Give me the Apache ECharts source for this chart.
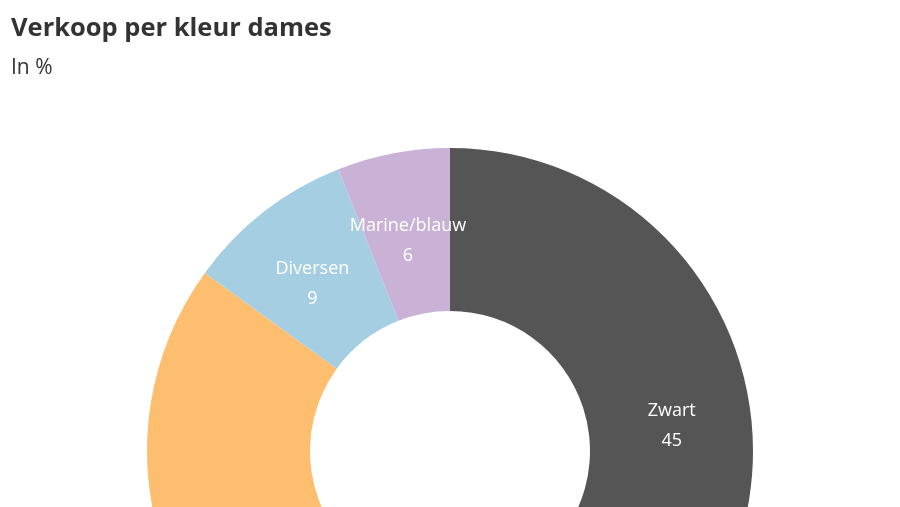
<!DOCTYPE html>
<html>
<head>
<meta charset="utf-8">
<script src="https://cdn.jsdelivr.net/npm/echarts@6/dist/echarts.min.js"></script>
<style>
  html, body { margin: 0; padding: 0; background: #fff; }
  #chart { width: 900px; height: 507px; }
</style>
</head>
<body>
<div id="chart"></div>
<script>
// Data (clockwise from top)
const colorNames = ['Zwart', 'Bruin', 'Diversen', 'Marine/blauw'];
const shares = [45, 40, 9, 6];
const sliceColors = ['#555555', '#fdbf6f', '#a6cee3', '#cab2d6'];

const myChart = echarts.init(document.getElementById('chart'));

const option = {
    animation: false,
    title: {
        text: 'Verkoop per kleur dames',
        subtext: 'In %',
        left: 11,
        top: 16,
        padding: 0,
        itemGap: 16,
        textStyle: {
            fontFamily: 'Open Sans',
            fontWeight: 'bold',
            fontSize: 25.5,
            color: '#333333'
        },
        subtextStyle: {
            fontFamily: 'Open Sans',
            fontSize: 21,
            color: '#333333'
        }
    },
    series: [{
        type: 'pie',
        center: [450, 451],
        radius: [140, 303],
        startAngle: 90,
        clockwise: true,
        avoidLabelOverlap: false,
        label: {
            show: true,
            position: 'inside',
            formatter: '{b}\n{c}',
            color: '#ffffff',
            fontFamily: 'Open Sans',
            fontSize: 18,
            lineHeight: 30
        },
        labelLayout: { dy: 10 },
        labelLine: { show: false },
        emphasis: { disabled: true },
        data: colorNames.map((name, i) => ({
            name: name,
            value: shares[i],
            itemStyle: { color: sliceColors[i] }
        }))
    }]
};

myChart.setOption(option);
</script>
</body>
</html>
